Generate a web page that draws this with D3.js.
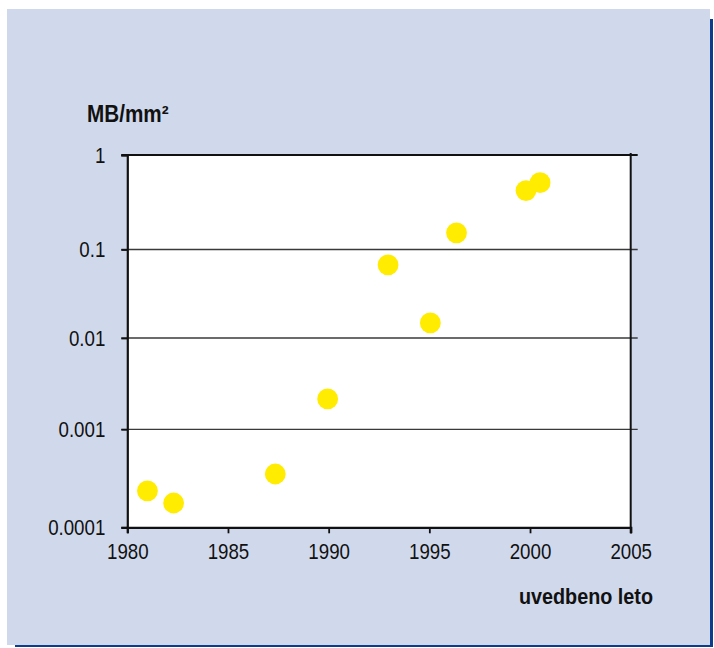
<!DOCTYPE html>
<html>
<head>
<meta charset="utf-8">
<script src="https://cdn.jsdelivr.net/npm/d3@7/dist/d3.min.js"></script>
<style>
  html, body { margin: 0; padding: 0; background: #ffffff; }
  svg { display: block; }
  text { font-family: "Liberation Sans Narrow", "Arial Narrow", "Liberation Sans", Arial, sans-serif; fill: #111; }
</style>
</head>
<body>
<svg id="chart" width="714" height="648"></svg>
<script>
// Storage density of hard disks by year of introduction
const years = [1981, 1982.3, 1987.35, 1989.95, 1992.95, 1995.05, 1996.35, 1999.8, 2000.5];
const density = [0.000235, 0.000177, 0.00035, 0.00215, 0.067, 0.0148, 0.15, 0.42, 0.51];
const xTicks = [1980, 1985, 1990, 1995, 2000, 2005];
const yTicks = [0.0001, 0.001, 0.01, 0.1, 1];
const yTickLabels = ["0.0001", "0.001", "0.01", "0.1", "1"];
const yTitle = "MB/mm²";
const xTitle = "uvedbeno leto";

const FONT = '"Liberation Sans Narrow", "Arial Narrow", "Liberation Sans", Arial, sans-serif';
const NARROW = 0.85; // horizontal squeeze to get a condensed face
const svg = d3.select("#chart");

// panel with a dark blue drop shadow on the right and bottom
svg.append("rect").attr("x", 15).attr("y", 19).attr("width", 698).attr("height", 628).attr("fill", "#0b3d8c");
svg.append("rect").attr("x", 7).attr("y", 9).attr("width", 703).attr("height", 636).attr("fill", "#d0d9ec");

const plotL = 127.3, plotR = 630.7, plotT = 155, plotB = 527.3;

const x = d3.scaleLinear().domain([1980, 2005]).range([plotL, plotR]);
const y = d3.scaleLog()
  .domain([0.0001, 0.001, 0.01, 0.1, 1])
  .range([plotB, 429.3, 338, 249.5, plotT]);

// plot area
svg.append("rect")
  .attr("x", plotL).attr("y", plotT)
  .attr("width", plotR - plotL).attr("height", plotB - plotT)
  .attr("fill", "#ffffff");

// horizontal gridlines, extending past both axes like tick marks
svg.append("g")
  .selectAll("line")
  .data(yTicks.filter(v => v > 0.0001 && v < 1))
  .join("line")
  .attr("x1", plotL - 6).attr("x2", plotR + 7)
  .attr("y1", d => y(d)).attr("y2", d => y(d))
  .attr("stroke", "#3a3a3a").attr("stroke-width", 1.3);

// top border line
svg.append("line")
  .attr("x1", plotL - 6).attr("x2", plotR + 7)
  .attr("y1", plotT).attr("y2", plotT)
  .attr("stroke", "#111").attr("stroke-width", 2);

// right border line
svg.append("line")
  .attr("x1", plotR).attr("x2", plotR)
  .attr("y1", plotT - 2).attr("y2", plotB + 6)
  .attr("stroke", "#111").attr("stroke-width", 2);

// y axis
const yAxis = svg.append("g")
  .attr("transform", `translate(${plotL},0)`)
  .call(d3.axisLeft(y).tickValues(yTicks).tickSize(6).tickPadding(16)
    .tickFormat((d, i) => yTickLabels[i]));
yAxis.select(".domain").attr("stroke", "#111").attr("stroke-width", 2.2);
yAxis.selectAll(".tick line").attr("stroke", "#111").attr("stroke-width", 1.8);
yAxis.selectAll("text")
  .attr("font-size", 22).attr("fill", "#111").attr("font-family", FONT)
  .attr("x", -22 / NARROW)
  .attr("transform", `scale(${NARROW},1)`);

// x axis
const xAxis = svg.append("g")
  .attr("transform", `translate(0,${plotB})`)
  .call(d3.axisBottom(x).tickValues(xTicks).tickSize(6).tickPadding(10).tickFormat(d3.format("d")));
xAxis.select(".domain").attr("stroke", "#111").attr("stroke-width", 2.2);
xAxis.selectAll(".tick line").attr("stroke", "#111").attr("stroke-width", 1.8);
xAxis.selectAll("text")
  .attr("font-size", 22).attr("fill", "#111").attr("font-family", FONT)
  .attr("transform", `scale(${NARROW},1)`);

// data points
svg.append("g")
  .selectAll("circle")
  .data(years.map((yr, i) => ({ yr, v: density[i] })))
  .join("circle")
  .attr("cx", d => x(d.yr))
  .attr("cy", d => y(d.v))
  .attr("r", 10.4)
  .attr("fill", "#ffec00");

// axis titles
svg.append("text")
  .attr("transform", "translate(87,122) scale(0.9,1)")
  .attr("font-size", 23).attr("font-weight", "bold")
  .text(yTitle);

svg.append("text")
  .attr("transform", "translate(653,604) scale(0.9,1)")
  .attr("text-anchor", "end")
  .attr("font-size", 22).attr("font-weight", "bold")
  .text(xTitle);
</script>
</body>
</html>
